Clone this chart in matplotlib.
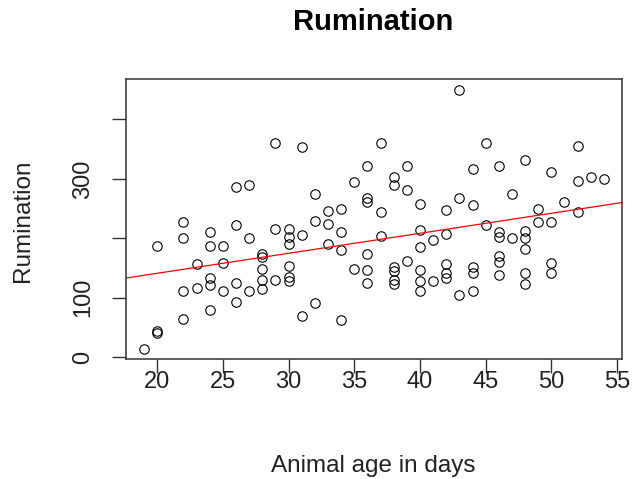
import numpy as np
import matplotlib
matplotlib.use("Agg")
import matplotlib.pyplot as plt

plt.rcParams['font.family'] = ['Liberation Sans', 'DejaVu Sans']

# animal age (days) and rumination readings
age = [19,
       20, 20, 20,
       22, 22, 22, 22,
       23, 23,
       24, 24, 24, 24, 24,
       25, 25, 25,
       26, 26, 26, 26,
       27, 27, 27,
       28, 28, 28, 28, 28,
       29, 29, 29,
       30, 30, 30, 30, 30, 30,
       31, 31, 31,
       32, 32, 32,
       33, 33, 33,
       34, 34, 34, 34,
       35, 35,
       36, 36, 36, 36, 36, 36,
       37, 37, 37,
       38, 38, 38, 38, 38, 38,
       39, 39, 39,
       40, 40, 40, 40, 40, 40,
       41, 41,
       42, 42, 42, 42, 42,
       43, 43, 43,
       44, 44, 44, 44, 44,
       45, 45,
       46, 46, 46, 46, 46, 46,
       47, 47,
       48, 48, 48, 48, 48, 48,
       49, 49,
       50, 50, 50, 50,
       51,
       52, 52, 52,
       53,
       54]
rumination = [14,
              44, 41, 187,
              64, 111, 201, 227,
              116, 156,
              80, 122, 134, 187, 211,
              111, 158, 187,
              93, 125, 222, 287,
              111, 201, 290,
              114, 130, 149, 169, 173,
              361, 130, 215,
              215, 202, 190, 153, 135, 129,
              353, 205, 70,
              274, 229, 91,
              246, 224, 190,
              249, 211, 180, 62,
              295, 148,
              322, 267, 261, 174, 146, 125,
              361, 245, 204,
              304, 290, 152, 145, 130, 124,
              322, 282, 162,
              258, 214, 185, 146, 129, 111,
              198, 128,
              248, 208, 157, 141, 134,
              450, 267, 104,
              316, 256, 152, 141, 111,
              361, 222,
              322, 211, 202, 171, 160, 138,
              274, 201,
              332, 212, 200, 182, 141, 124,
              249, 228,
              311, 228, 158, 141,
              261,
              355, 297, 245,
              303,
              300]

x_ticks = [20, 25, 30, 35, 40, 45, 50, 55]
y_ticks = [0, 100, 200, 300, 400]
y_tick_labels = ['0', '100', '', '300', '']

x = np.array(age, dtype=float)
y = np.array(rumination, dtype=float)

# least squares line, like abline(lm(...))
slope, intercept = np.polyfit(x, y, 1)

fig = plt.figure(figsize=(6.4, 4.79), dpi=100)
ax = fig.add_axes([0.1964, 0.2499, 0.7759, 0.5845])

ax.plot(x, y, 'o', mfc='none', mec='black', ms=6.8, mew=0.8)

# R style axis range: 4% padding each side
xr = x.max() - x.min()
yr = y.max() - y.min()
ax.set_xlim(x.min() - 0.04 * xr, x.max() + 0.04 * xr)
ax.set_ylim(y.min() - 0.04 * yr, y.max() + 0.04 * yr)

xl = np.array(ax.get_xlim())
ax.plot(xl, intercept + slope * xl, color='red', lw=0.9)
ax.set_xlim(xl)

ax.set_xticks(x_ticks)
ax.set_yticks(y_ticks)
ax.set_yticklabels(y_tick_labels, rotation=90, va='center')
ax.tick_params(axis='both', direction='out', length=10, width=1.0,
               labelsize=17, color='#333333', labelcolor='#222222')
ax.tick_params(axis='x', pad=-1.5)
ax.tick_params(axis='y', pad=13)
for s in ax.spines.values():
    s.set_linewidth(1.1)
    s.set_color('#333333')

fig.text(0.583, 0.955, 'Rumination', ha='center', va='center',
         fontsize=21, fontweight='bold')
fig.text(0.583, 0.028, 'Animal age in days', ha='center', va='center',
         fontsize=17.5, color='#222222')
fig.text(0.036, 0.54, 'Rumination', ha='center', va='center',
         rotation=90, fontsize=17.5, color='#222222')

fig.savefig('out.png', dpi=100)
